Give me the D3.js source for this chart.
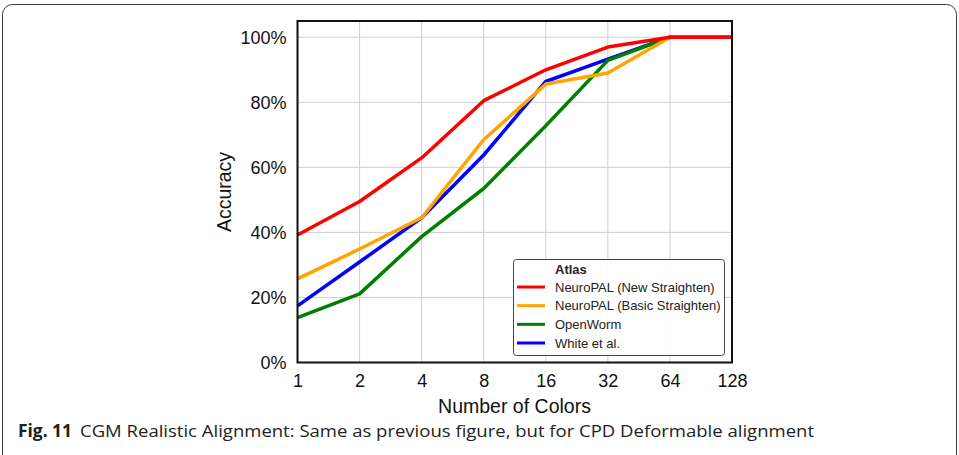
<!DOCTYPE html>
<html>
<head>
<meta charset="utf-8">
<script src="https://cdn.jsdelivr.net/npm/d3@7"></script>
<style>
  html, body { margin: 0; padding: 0; background: #fff; }
  svg { display: block; }
</style>
</head>
<body>
<svg id="chart" width="959" height="455"></svg>
<script>
// Number of colours used for alignment (log2 axis)
const colors = [1, 2, 4, 8, 16, 32, 64, 128];
const xTickLabels = ["1", "2", "4", "8", "16", "32", "64", "128"];
const yTicks = [0, 20, 40, 60, 80, 100];
const yTickLabels = ["0%", "20%", "40%", "60%", "80%", "100%"];

// Accuracy (%) per atlas
const newStraighten   = [39.2, 49.5, 62.9, 80.5, 90.0, 97.0, 100, 100];
const basicStraighten = [25.7, 34.9, 44.5, 68.5, 85.6, 89.0, 100, 100];
const openWorm        = [13.8, 21.1, 38.7, 53.5, 72.8, 92.9, 100, 100];
const whiteEtAl       = [17.4, 30.9, 44.5, 63.8, 86.4, 93.3, 100, 100];

const seriesNames = ["NeuroPAL (New Straighten)", "NeuroPAL (Basic Straighten)", "OpenWorm", "White et al."];
const seriesValues = [newStraighten, basicStraighten, openWorm, whiteEtAl];
const seriesColors = ["#ff0000", "#ffa500", "#008000", "#0000ff"];

const svg = d3.select("#chart");
const chartFont = "'Liberation Sans', Arial, sans-serif";

// Outer figure frame
svg.append("rect")
  .attr("x", 2.5).attr("y", 4.5)
  .attr("width", 954).attr("height", 470)
  .attr("rx", 10).attr("ry", 10)
  .attr("fill", "none").attr("stroke", "#3a3a3a").attr("stroke-width", 1);

const plot = { left: 297.5, right: 732, top: 21, bottom: 362.5 };

const x = d3.scaleLog().base(2).domain([1, 128]).range([plot.left, plot.right]);
const y = d3.scaleLinear().domain([0, 105]).range([plot.bottom, plot.top]);

// Grid
const grid = svg.append("g").attr("stroke", "#cfcfcf").attr("stroke-width", 1);
grid.selectAll("line.v").data(colors).join("line")
  .attr("class", "v")
  .attr("x1", d => x(d)).attr("x2", d => x(d))
  .attr("y1", plot.top).attr("y2", plot.bottom);
grid.selectAll("line.h").data(yTicks).join("line")
  .attr("class", "h")
  .attr("x1", plot.left).attr("x2", plot.right)
  .attr("y1", d => y(d)).attr("y2", d => y(d));

// Axes (labels only, no tick marks)
const xAxis = d3.axisBottom(x)
  .tickValues(colors)
  .tickFormat((d, i) => xTickLabels[i])
  .tickSize(0).tickPadding(12);
const gx = svg.append("g")
  .attr("transform", `translate(0,${plot.bottom})`)
  .call(xAxis);
gx.select(".domain").remove();
gx.selectAll("text")
  .attr("font-family", chartFont).attr("font-size", 18).attr("fill", "#111");

const yAxis = d3.axisLeft(y)
  .tickValues(yTicks)
  .tickFormat((d, i) => yTickLabels[i])
  .tickSize(0).tickPadding(11);
const gy = svg.append("g")
  .attr("transform", `translate(${plot.left},0)`)
  .call(yAxis);
gy.select(".domain").remove();
gy.selectAll("text")
  .attr("font-family", chartFont).attr("font-size", 18).attr("fill", "#111");

// Series lines
const line = d3.line()
  .x((d, i) => x(colors[i]))
  .y(d => y(d));

const drawOrder = [3, 2, 1, 0];
svg.append("g").selectAll("path")
  .data(drawOrder)
  .join("path")
  .attr("d", k => line(seriesValues[k]))
  .attr("fill", "none")
  .attr("stroke", k => seriesColors[k])
  .attr("stroke-width", 3.5)
  .attr("stroke-linejoin", "round");

// Plot frame
svg.append("rect")
  .attr("x", plot.left).attr("y", plot.top)
  .attr("width", plot.right - plot.left).attr("height", plot.bottom - plot.top)
  .attr("fill", "none").attr("stroke", "#111").attr("stroke-width", 2);

// Axis titles
svg.append("text")
  .attr("x", 514.5).attr("y", 413)
  .attr("text-anchor", "middle")
  .attr("font-family", chartFont).attr("font-size", 19.5).attr("fill", "#111")
  .text("Number of Colors");

svg.append("text")
  .attr("transform", "translate(231,192) rotate(-90)")
  .attr("text-anchor", "middle")
  .attr("font-family", chartFont).attr("font-size", 19.5).attr("fill", "#111")
  .text("Accuracy");

// Legend
const legend = svg.append("g");
legend.append("rect")
  .attr("x", 513.5).attr("y", 259.5)
  .attr("width", 211).attr("height", 96)
  .attr("rx", 3).attr("ry", 3)
  .attr("fill", "#fff").attr("fill-opacity", 0.9)
  .attr("stroke", "#444").attr("stroke-width", 1);
legend.append("text")
  .attr("x", 555).attr("y", 274)
  .attr("font-family", chartFont).attr("font-size", 13).attr("font-weight", "bold").attr("fill", "#222")
  .text("Atlas");
const rowY = d3.scaleLinear().domain([0, 3]).range([287, 343]);
const items = legend.selectAll("g.item").data(seriesNames).join("g").attr("class", "item");
items.append("line")
  .attr("x1", 517).attr("x2", 545)
  .attr("y1", (d, i) => rowY(i)).attr("y2", (d, i) => rowY(i))
  .attr("stroke", (d, i) => seriesColors[i]).attr("stroke-width", 3);
items.append("text")
  .attr("x", 555).attr("y", (d, i) => rowY(i) + 4.6)
  .attr("font-family", chartFont).attr("font-size", 13).attr("fill", "#222")
  .text(d => d);

// Caption
const captionFont = "'Open Sans', 'Noto Sans', sans-serif";
const cap = svg.append("text")
  .attr("y", 437)
  .attr("font-family", captionFont).attr("font-size", 17).attr("fill", "#222");
cap.append("tspan").attr("x", 18).attr("font-weight", "bold").attr("font-size", 17.5)
  .attr("textLength", 54).attr("lengthAdjust", "spacingAndGlyphs")
  .text("Fig. 11");
cap.append("tspan").attr("x", 80)
  .attr("textLength", 734).attr("lengthAdjust", "spacingAndGlyphs")
  .text("CGM Realistic Alignment: Same as previous figure, but for CPD Deformable alignment");
</script>
</body>
</html>
